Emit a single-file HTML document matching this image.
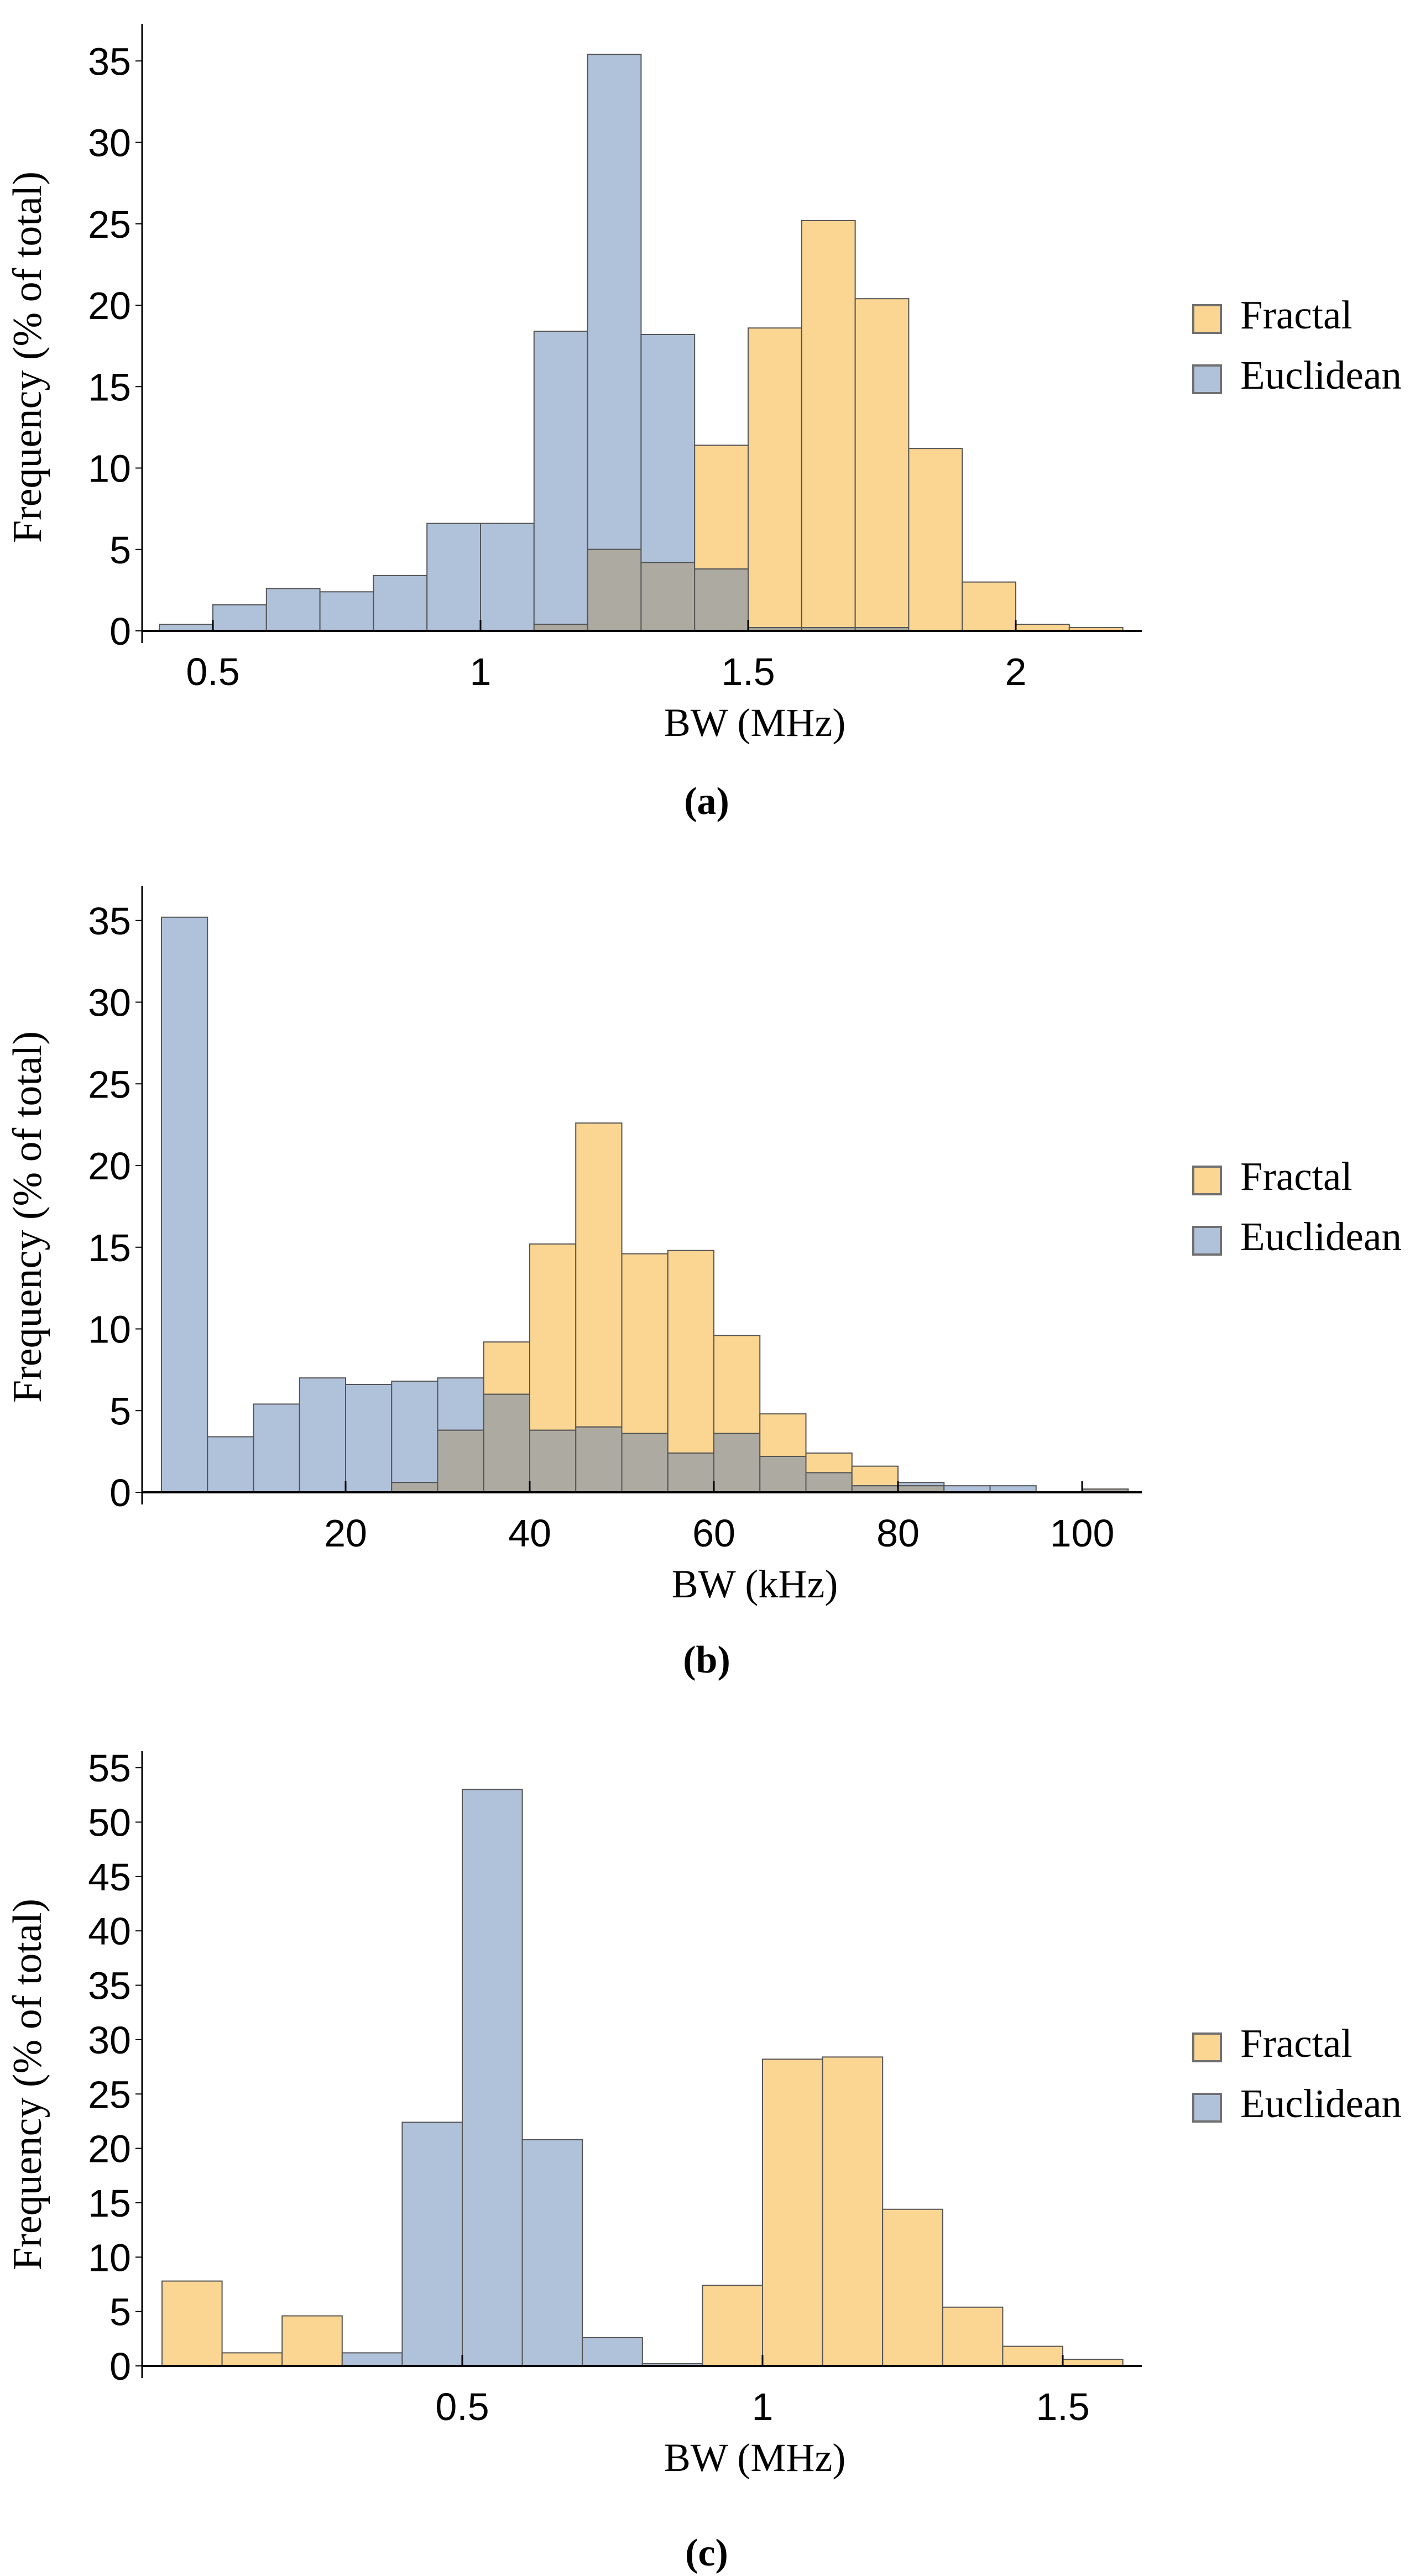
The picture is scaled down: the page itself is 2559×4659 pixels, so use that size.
<!DOCTYPE html>
<html><head><meta charset="utf-8"><style>
html,body{margin:0;padding:0;background:#fff;}
svg{display:block;}
text{font-family:"Liberation Serif",serif;fill:#000;}
.tick{font-family:"Liberation Sans",sans-serif;font-size:70px;}
</style></head><body>
<svg id="fig" width="2559" height="4659" viewBox="0 0 2559 4659" xmlns="http://www.w3.org/2000/svg"></svg>
<script>
// Chart (a): bins 0.4..2.2 step 0.1 (MHz)
const aBinStarts = [0.4,0.5,0.6,0.7,0.8,0.9,1.0,1.1,1.2,1.3,1.4,1.5,1.6,1.7,1.8,1.9,2.0,2.1];
const aEuclidean = [0.4,1.6,2.6,2.4,3.4,6.6,6.6,18.4,35.4,18.2,3.8,0.2,0.2,0.2,0,0,0,0];
const aFractal   = [0,0,0,0,0,0,0,0.4,5.0,4.2,11.4,18.6,25.2,20.4,11.2,3.0,0.4,0.2];
const aXTicks = [0.5,1,1.5,2];
const aXTickLabels = ["0.5","1","1.5","2"];
const aYTicks = [0,5,10,15,20,25,30,35];

// Chart (b): bins 0..105 step 5 (kHz)
const bBinStarts = [0,5,10,15,20,25,30,35,40,45,50,55,60,65,70,75,80,85,90,95,100];
const bEuclidean = [35.2,3.4,5.4,7.0,6.6,6.8,7.0,6.0,3.8,4.0,3.6,2.4,3.6,2.2,1.2,0.4,0.6,0.4,0.4,0,0.2];
const bFractal   = [0,0,0,0,0,0.6,3.8,9.2,15.2,22.6,14.6,14.8,9.6,4.8,2.4,1.6,0.4,0,0,0,0.2];
const bXTicks = [20,40,60,80,100];
const bXTickLabels = ["20","40","60","80","100"];
const bYTicks = [0,5,10,15,20,25,30,35];

// Chart (c): bins 0..1.6 step 0.1 (MHz)
const cBinStarts = [0,0.1,0.2,0.3,0.4,0.5,0.6,0.7,0.8,0.9,1.0,1.1,1.2,1.3,1.4,1.5];
const cEuclidean = [0,0,0,1.2,22.4,53.0,20.8,2.6,0.2,0,0,0,0,0,0,0];
const cFractal   = [7.8,1.2,4.6,0,0,0,0,0,0,7.4,28.2,28.4,14.4,5.4,1.8,0.6];
const cXTicks = [0.5,1,1.5];
const cXTickLabels = ["0.5","1","1.5"];
const cYTicks = [0,5,10,15,20,25,30,35,40,45,50,55];

const NS = "http://www.w3.org/2000/svg";
const svg = document.getElementById("fig");
function mk(tag, attrs, parent){
  const e = document.createElementNS(NS, tag);
  for (const k in attrs) e.setAttribute(k, attrs[k]);
  parent.appendChild(e);
  return e;
}
const BLUE="#b0c1da", ORANGE="#fbd693", GRAY="#adaaa2", EDGE="#555";

function drawChart(cfg){
  const g = mk("g", {}, svg);
  
  
  const X = v => cfg.x0 + (v - cfg.v0) * cfg.kx;
  const Y = v => cfg.zeroY - v * cfg.ky;
  for (let i = 0; i < cfg.bins.length; i++){
    const x1 = X(cfg.bins[i]), x2 = X(cfg.bins[i] + cfg.step);
    const e = cfg.eu[i], f = cfg.fr[i];
    const lo = Math.min(e, f), hi = Math.max(e, f);
    if (hi > lo){
      const r = mk("rect", {x:x1, y:Y(hi), width:x2-x1, height:Y(lo)-Y(hi), fill: e>f?BLUE:ORANGE, stroke:EDGE, "stroke-width":2}, g);
      
      
    }
    if (lo > 0){
      const r = mk("rect", {x:x1, y:Y(lo), width:x2-x1, height:Y(0)-Y(lo), fill:GRAY, stroke:EDGE, "stroke-width":2}, g);
      
      
    }
  }
  const ax = mk("line", {x1:cfg.axisX, y1:cfg.zeroY, x2:cfg.axisEnd, y2:cfg.zeroY, stroke:"#000", "stroke-width":4}, g);
  
  
  const ay = mk("line", {x1:cfg.axisX, y1:cfg.axisTop, x2:cfg.axisX, y2:cfg.zeroY+22, stroke:"#000", "stroke-width":3}, g);
  
  
  cfg.yt.forEach(v => {
    const y = Y(v);
    const t = mk("line", {x1:cfg.axisX-12, y1:y, x2:cfg.axisX, y2:y, stroke:"#000", "stroke-width":2}, g);
    
    
    const l = mk("text", {x:cfg.axisX-20, y:y+25, "text-anchor":"end", class:"tick"}, g);
    l.textContent = String(v);
    
    
  });
  cfg.xt.forEach((v, i) => {
    const x = X(v);
    const t = mk("line", {x1:x, y1:cfg.zeroY-20, x2:x, y2:cfg.zeroY, stroke:"#000", "stroke-width":3}, g);
    
    
    const l = mk("text", {x:x, y:cfg.zeroY+98, "text-anchor":"middle", class:"tick"}, g);
    l.textContent = cfg.xl[i];
    
    
  });
  const xtTitle = mk("text", {x:1365, y:cfg.zeroY+190, "text-anchor":"middle", "font-size":72}, g);
  xtTitle.textContent = cfg.xTitle;
  
  
  const ytTitle = mk("text", {x:0, y:0, "text-anchor":"middle", "font-size":74, transform:`translate(74,${cfg.yTitleC}) rotate(-90)`}, g);
  ytTitle.textContent = "Frequency (% of total)";
  
  
  const lg = mk("g", {}, g);
  
  
  [[ORANGE,"Fractal",0],[BLUE,"Euclidean",109]].forEach(([c,n,dy]) => {
    const s = mk("rect", {x:2158, y:cfg.legY+dy, width:50, height:50, fill:c, stroke:"#707070", "stroke-width":4}, lg);
    
    
    const t = mk("text", {x:2243, y:cfg.legY+dy+42, "font-size":73}, lg);
    t.textContent = n;
    
    
  });
  const cap = mk("text", {x:1278, y:cfg.capY, "text-anchor":"middle", "font-size":70, "font-weight":"bold"}, g);
  cap.textContent = cfg.caption;
  
  
}

drawChart({name:"chart-a", bins:aBinStarts, eu:aEuclidean, fr:aFractal, step:0.1,
  x0:385, v0:0.5, kx:968, zeroY:1141, ky:29.45, axisX:257, axisEnd:2065, axisTop:43,
  yt:aYTicks, xt:aXTicks, xl:aXTickLabels, xTitle:"BW (MHz)", yTitleC:646, legY:552, capY:1472, caption:"(a)"});
drawChart({name:"chart-b", bins:bBinStarts, eu:bEuclidean, fr:bFractal, step:5,
  x0:292, v0:0, kx:16.65, zeroY:2699, ky:29.55, axisX:257, axisEnd:2065, axisTop:1602,
  yt:bYTicks, xt:bXTicks, xl:bXTickLabels, xTitle:"BW (kHz)", yTitleC:2201, legY:2110, capY:3025, caption:"(b)"});
drawChart({name:"chart-c", bins:cBinStarts, eu:cEuclidean, fr:cFractal, step:0.1,
  x0:293, v0:0, kx:1086, zeroY:4279, ky:19.67, axisX:257, axisEnd:2065, axisTop:3167,
  yt:cYTicks, xt:cXTicks, xl:cXTickLabels, xTitle:"BW (MHz)", yTitleC:3770, legY:3678, capY:4640, caption:"(c)"});
</script>
</body></html>
